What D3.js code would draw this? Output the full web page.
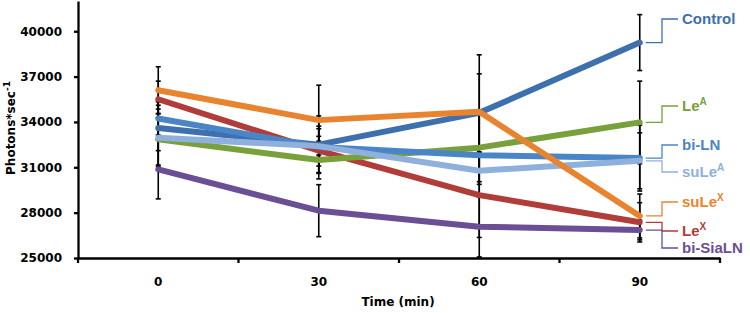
<!DOCTYPE html>
<html>
<head>
<meta charset="utf-8">
<script src="https://cdn.jsdelivr.net/npm/d3@7"></script>
<style>
  body { margin: 0; background: #fff; }
  svg { display: block; }
  .axis text { font-family: "DejaVu Sans", sans-serif; font-weight: bold; font-size: 12px; fill: #000; }
  .axis path, .axis line { stroke: #000; stroke-width: 2.3px; }
</style>
</head>
<body>
<script>
// time points (min)
var times = ["0", "30", "60", "90"];
var yTicks = [25000, 28000, 31000, 34000, 37000, 40000];

// series names (label text = base + superscript)
var names = ["Control", "LeA", "bi-LN", "suLeA", "suLeX", "LeX", "bi-SiaLN"];
var labelBase = ["Control", "Le", "bi-LN", "suLe", "suLe", "Le", "bi-SiaLN"];
var labelSup = ["", "A", "", "A", "X", "X", ""];

// mean values
var control = [33600, 32500, 34600, 39250];
var leA = [32850, 31480, 32300, 33970];
var biLN = [34230, 32350, 31800, 31610];
var suLeA = [32950, 32400, 30770, 31430];
var suLeX = [36100, 34120, 34670, 27780];
var leX = [35500, 32100, 29160, 27360];
var biSiaLN = [30860, 28130, 27070, 26850];

// error bar half-widths
var controlErr = [1500, 1900, 2580, 1850];
var leAErr = [1700, 1250, 2250, 2730];
var biLNErr = [1100, 700, 2750, 2180];
var suLeAErr = [1900, 1320, 900, 1850];
var suLeXErr = [1550, 2310, 3770, 1450];
var leXErr = [1200, 1450, 2800, 1300];
var biSiaLNErr = [1950, 1720, 2000, 650];

var colors = ["#3e70ad", "#78a13c", "#4a85c7", "#8fb0dc", "#e8842f", "#b03d3a", "#6a4f94"];
// label anchor rows at the right edge (px)
var labelY = [19, 106, 145, 172, 202, 231, 248];

var values = [control, leA, biLN, suLeA, suLeX, leX, biSiaLN];
var errs = [controlErr, leAErr, biLNErr, suLeAErr, suLeXErr, leXErr, biSiaLNErr];
var series = names.map(function(n, i) {
  return { name: n, color: colors[i], idx: i,
    pts: times.map(function(t, j) { return { t: t, v: values[i][j], e: errs[i][j] }; }) };
});

var width = 750, height = 313;
var svg = d3.select("body").append("svg").attr("width", width).attr("height", height);

var xScale = d3.scaleBand().domain(times).range([78, 720]);
var yScale = d3.scaleLinear().domain([25000, 42000]).range([258, 1]);
var cx = function(t) { return xScale(t) + xScale.bandwidth() / 2; };

// y axis
var yAxisG = svg.append("g").attr("class", "axis")
  .attr("transform", "translate(78,0)")
  .call(d3.axisLeft(yScale).tickValues(yTicks).tickFormat(d3.format("d")).tickSize(4).tickSizeOuter(0).tickPadding(12));

// x axis: labels at centres, ticks at band edges
var xAxisG = svg.append("g").attr("class", "axis")
  .attr("transform", "translate(0,258)")
  .call(d3.axisBottom(xScale).tickSize(0).tickSizeOuter(0).tickPadding(19));
xAxisG.selectAll(".edge")
  .data(times.map(function(t) { return xScale(t); }).concat([xScale.range()[1]]))
  .enter().append("line")
  .attr("x1", function(d) { return d; }).attr("x2", function(d) { return d; })
  .attr("y1", 0).attr("y2", 5);

// axis titles
svg.append("text")
  .attr("x", 398).attr("y", 306)
  .attr("text-anchor", "middle")
  .style("font-family", "DejaVu Sans, sans-serif").style("font-weight", "bold").style("font-size", "12px")
  .text("Time (min)");

var yTitle = svg.append("text")
  .attr("transform", "translate(15,128) rotate(-90)")
  .attr("text-anchor", "middle")
  .style("font-family", "DejaVu Sans, sans-serif").style("font-weight", "bold").style("font-size", "12px");
yTitle.append("tspan").text("Photons*sec");
yTitle.append("tspan").attr("dy", -5).style("font-size", "9px").text("-1");

// error bars
var eb = svg.append("g");
series.forEach(function(s) {
  s.pts.forEach(function(p) {
    var x = cx(p.t);
    var y1 = yScale(Math.max(p.v - p.e, 25000)), y2 = yScale(p.v + p.e);
    eb.append("line").attr("x1", x).attr("x2", x).attr("y1", y1).attr("y2", y2)
      .attr("stroke", "#000").attr("stroke-width", 1.6);
    [y1, y2].forEach(function(y) {
      eb.append("line").attr("x1", x - 2.5).attr("x2", x + 2.5).attr("y1", y).attr("y2", y)
        .attr("stroke", "#000").attr("stroke-width", 1.6);
    });
  });
});

// lines
var line = d3.line().x(function(d) { return cx(d.t); }).y(function(d) { return yScale(d.v); });
var drawOrder = [6, 5, 1, 0, 2, 3, 4];
svg.append("g").selectAll("path")
  .data(drawOrder.map(function(i) { return series[i]; }))
  .enter().append("path")
  .attr("d", function(d) { return line(d.pts); })
  .attr("fill", "none")
  .attr("stroke", function(d) { return d.color; })
  .attr("stroke-width", 6)
  .attr("stroke-linejoin", "round")
  .attr("stroke-linecap", "round");

// end labels with elbow connectors
var lab = svg.append("g");
series.forEach(function(s, i) {
  var last = s.pts[s.pts.length - 1];
  var x0 = cx(last.t) + 6, y0 = yScale(last.v), xm = 662, x1 = 678, ly = labelY[i];
  lab.append("path")
    .attr("d", "M" + x0 + "," + y0 + "H" + xm + "V" + ly + "H" + x1)
    .attr("fill", "none").attr("stroke", s.color).attr("stroke-width", 1.3);
  var t = lab.append("text")
    .attr("x", 682).attr("y", ly).attr("dy", "0.36em")
    .style("font-family", "Liberation Sans, Arial, sans-serif").style("font-weight", "bold")
    .style("font-size", "15px").attr("fill", s.color);
  t.append("tspan").text(labelBase[i]);
  if (labelSup[i]) t.append("tspan").attr("dy", -6).style("font-size", "10px").text(labelSup[i]);
});
</script>
</body>
</html>
